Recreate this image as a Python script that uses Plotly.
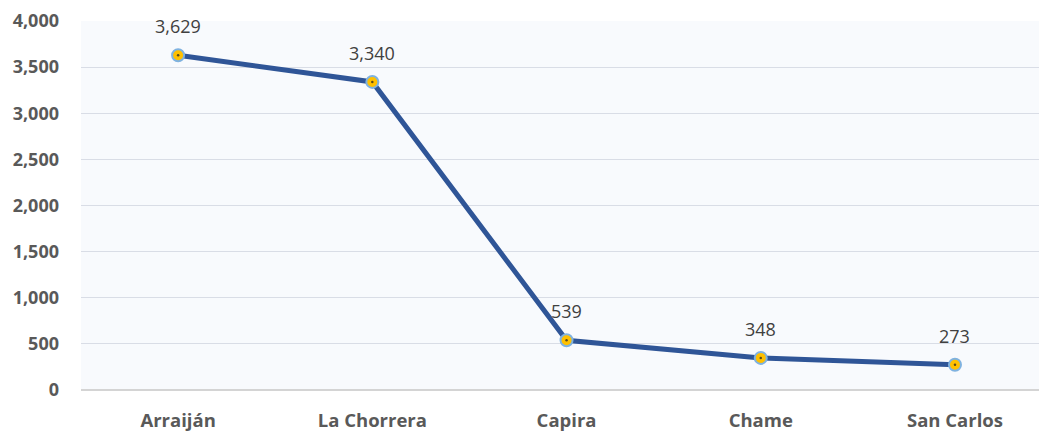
import plotly.graph_objects as go

categories = ["Arraiján", "La Chorrera", "Capira", "Chame", "San Carlos"]
values = [3629, 3340, 539, 348, 273]
label_text = [f"{v:,}" for v in values]
y_ticks = [0, 500, 1000, 1500, 2000, 2500, 3000, 3500, 4000]
y_tick_labels = [f"{v:,}" for v in y_ticks]

FONT = "Open Sans, sans-serif"

fig = go.Figure()
fig.add_trace(go.Scatter(
    x=categories, y=values, mode="lines+markers",
    line=dict(color="#2F5597", width=5),
    marker=dict(size=12, color="#FFC000", line=dict(color="#7FB2E0", width=2)),
    cliponaxis=False, hoverinfo="skip", showlegend=False,
))
fig.add_trace(go.Scatter(
    x=categories, y=values, mode="markers",
    marker=dict(size=2.5, color="#5A4A1A"),
    cliponaxis=False, hoverinfo="skip", showlegend=False,
))
for c, v, t in zip(categories, values, label_text):
    fig.add_annotation(x=c, y=v, text=t, showarrow=False, yshift=29,
                       font=dict(family=FONT, size=18, color="#404040"))

fig.update_layout(
    width=1047, height=433,
    margin=dict(l=73, r=0, t=11, b=51),
    paper_bgcolor="white", plot_bgcolor="#F8FAFD",
    font=dict(family=FONT),
)
fig.update_xaxes(
    type="category", range=[-0.5, 4.515], showgrid=False, showline=False,
    zeroline=False, ticks="", ticklabelstandoff=17,
    tickfont=dict(size=18.5, color="#595959", weight="bold"),
)
fig.update_yaxes(
    range=[0, 4000.5], tickvals=y_ticks, ticktext=y_tick_labels,
    showgrid=True, gridcolor="#D9DDE6", gridwidth=1.3,
    zeroline=True, zerolinecolor="#D4D4D4", zerolinewidth=2,
    ticks="", ticklabelstandoff=21, ticklabeloverflow="allow",
    tickfont=dict(size=18, color="#595959", weight="bold"),
)

fig.write_html("out.html")
